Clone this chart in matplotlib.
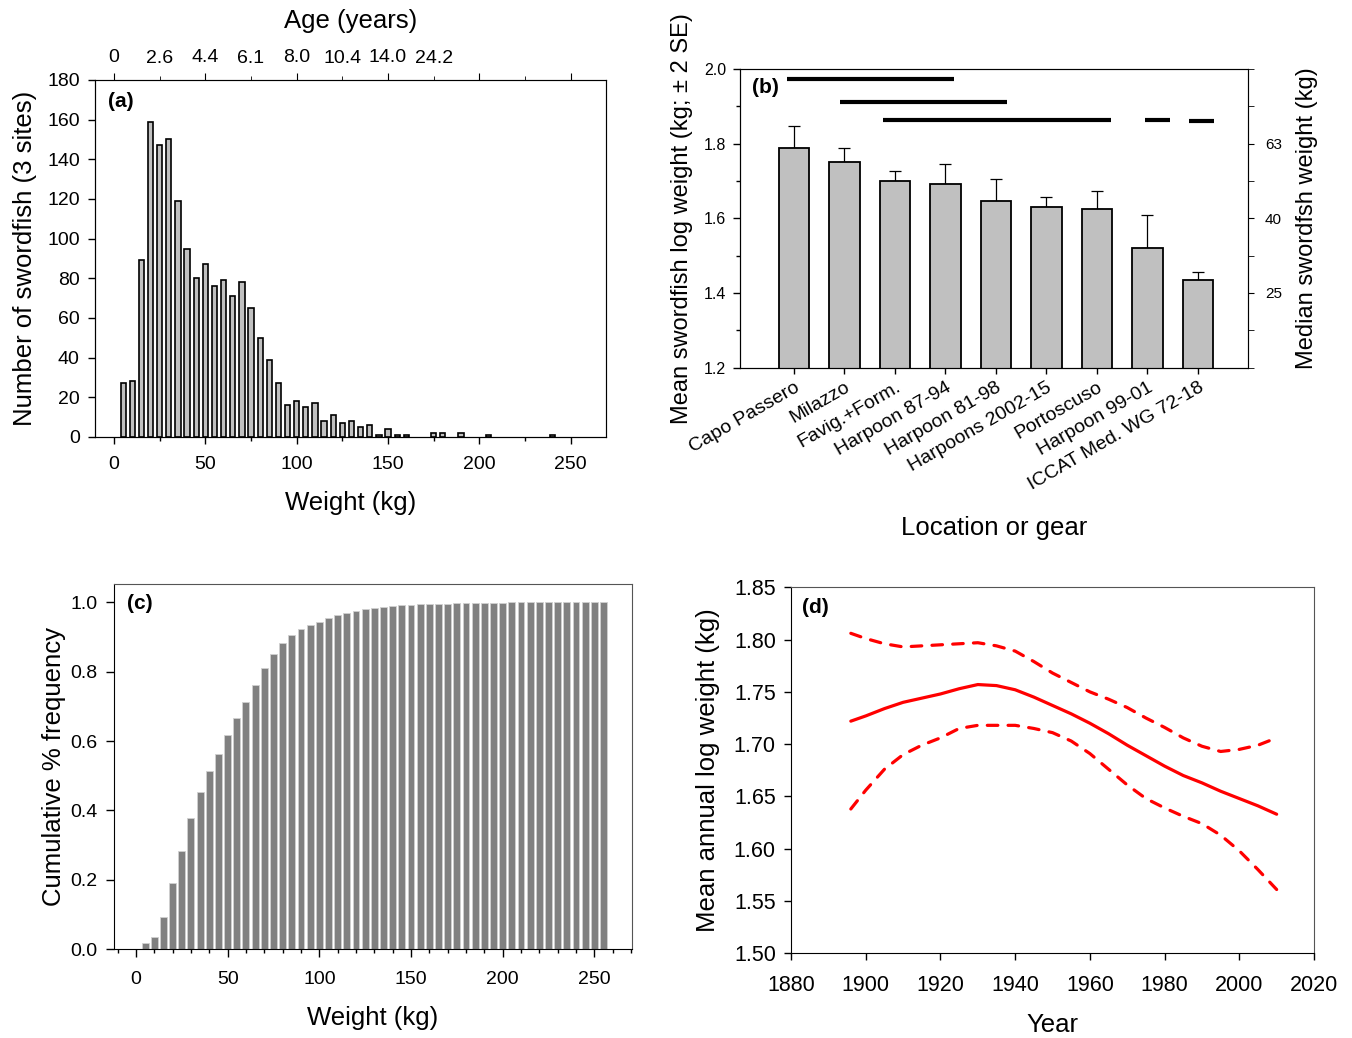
import matplotlib
matplotlib.use("Agg")
import matplotlib.pyplot as plt
from matplotlib.ticker import MultipleLocator

plt.rcParams["font.family"] = ["Liberation Sans", "DejaVu Sans"]

# (a) weight frequency, 5 kg bins (bin centre, count); empty bins left out
hist_weight = [5, 10, 15, 20, 25, 30, 35, 40, 45, 50, 55, 60, 65, 70, 75, 80,
               85, 90, 95, 100, 105, 110, 115, 120, 125, 130, 135, 140, 145,
               150, 155, 160, 175, 180, 190, 205, 240]
hist_count = [27, 28, 89, 159, 147, 150, 119, 95, 80, 87, 76, 79, 71, 78, 65,
              50, 39, 27, 16, 18, 15, 17, 8, 11, 7, 8, 5, 6, 1, 4, 1, 1, 2, 2,
              2, 1, 1]
age_major_labels = ["0", "4.4", "8.0", "14.0", "", ""]      # at 0, 50, ... 250 kg
age_minor_labels = ["2.6", "6.1", "10.4", "24.2", ""]       # at 25, 75, ... 225 kg

# (b) mean log weight by location / gear
sites = ["Capo Passero", "Milazzo", "Favig.+Form.", "Harpoon 87-94",
         "Harpoon 81-98", "Harpoons 2002-15", "Portoscuso", "Harpoon 99-01",
         "ICCAT Med. WG 72-18"]
mean_log_w = [1.789, 1.751, 1.701, 1.691, 1.646, 1.629, 1.626, 1.520, 1.434]
two_se = [0.059, 0.038, 0.025, 0.054, 0.060, 0.027, 0.048, 0.090, 0.021]
median_labels = ["25", "40", "63"]
median_ticks = [1.4, 1.6, 1.8]
# homogeneous groups: start, end (in bar positions 1..9), level
group_start = [0.86, 1.91, 2.76, 7.95, 8.82]
group_end = [4.17, 5.21, 7.27, 8.44, 9.31]
group_level = [1.973, 1.911, 1.862, 1.862, 1.860]

# (c) cumulative frequency by weight
cum_weight = list(range(5, 256, 5))
cum_freq = [0.017, 0.036, 0.092, 0.191, 0.284, 0.378, 0.453, 0.513, 0.562,
            0.618, 0.666, 0.714, 0.761, 0.810, 0.850, 0.884, 0.906, 0.923,
            0.934, 0.944, 0.955, 0.965, 0.969, 0.976, 0.980, 0.985, 0.988,
            0.991, 0.992, 0.994, 0.995, 0.995, 0.996, 0.996, 0.997, 0.998,
            0.998, 0.999, 0.999, 0.999, 1.0, 1.0, 1.0, 1.0, 1.0, 1.0, 1.0,
            1.0, 1.0, 1.0, 1.0]

# (d) smoothed mean annual log weight with confidence band
years = [1896, 1900, 1905, 1910, 1915, 1920, 1925, 1930, 1935, 1940, 1945,
         1950, 1955, 1960, 1965, 1970, 1975, 1980, 1985, 1990, 1995, 2000,
         2005, 2010]
fit_mean = [1.722, 1.727, 1.734, 1.740, 1.744, 1.748, 1.753, 1.757, 1.756,
            1.752, 1.745, 1.737, 1.729, 1.720, 1.710, 1.699, 1.689, 1.679,
            1.670, 1.663, 1.655, 1.648, 1.641, 1.633]
fit_upper = [1.806, 1.801, 1.796, 1.793, 1.794, 1.795, 1.796, 1.797, 1.794,
             1.789, 1.779, 1.768, 1.759, 1.750, 1.743, 1.735, 1.725, 1.716,
             1.706, 1.698, 1.693, 1.695, 1.699, 1.706]
fit_lower = [1.638, 1.656, 1.676, 1.690, 1.699, 1.706, 1.715, 1.718, 1.718,
             1.718, 1.715, 1.711, 1.703, 1.691, 1.676, 1.661, 1.648, 1.639,
             1.631, 1.624, 1.613, 1.598, 1.580, 1.561]

TICK_FS = 14
LABEL_FS = 18.5
FRAME_GRAY = "#555555"


def style_frame(ax, xpad=9, ypad=6):
    for side in ["top", "right"]:
        ax.spines[side].set_color(FRAME_GRAY)
    for side in ["left", "bottom"]:
        ax.spines[side].set_color("black")
    ax.tick_params(which="both", direction="out", labelsize=TICK_FS,
                   width=1, color="black")
    ax.tick_params(which="major", length=5)
    ax.tick_params(which="minor", length=3)
    ax.tick_params(axis="x", which="both", pad=xpad)
    ax.tick_params(axis="y", which="both", pad=ypad)


def panel_letter(ax, text, x, y):
    ax.text(x, y, text, transform=ax.transAxes, ha="left", va="top",
            fontsize=15, fontweight="bold")


def plot_figure():
    fig = plt.figure(figsize=(13.52, 10.38), dpi=100)

    # ---- (a) histogram
    ax_a = fig.add_axes([0.0703, 0.579, 0.378, 0.344])
    ax_a.bar(hist_weight, hist_count, width=2.9, color="#c0c0c0",
             edgecolor="black", linewidth=1.2)
    ax_a.set_xlim(-10.4, 269.4)
    ax_a.set_ylim(0, 180)
    ax_a.xaxis.set_major_locator(MultipleLocator(50))
    ax_a.xaxis.set_minor_locator(MultipleLocator(25))
    ax_a.yaxis.set_major_locator(MultipleLocator(20))
    style_frame(ax_a)
    ax_a.set_xlabel("Weight (kg)", fontsize=LABEL_FS, labelpad=13)
    ax_a.set_ylabel("Number of swordfish (3 sites)", fontsize=LABEL_FS,
                    labelpad=7)
    panel_letter(ax_a, "(a)", 0.025, 0.965)

    ax_age = ax_a.twiny()
    ax_age.set_xlim(ax_a.get_xlim())
    ax_age.set_xticks(range(0, 251, 50), labels=age_major_labels)
    ax_age.set_xticks(range(25, 250, 50), labels=age_minor_labels, minor=True)
    ax_age.tick_params(which="both", direction="out", labelsize=TICK_FS)
    ax_age.tick_params(which="major", length=5, pad=5)
    ax_age.tick_params(which="minor", length=3, pad=6.5)
    ax_age.set_xlabel("Age (years)", fontsize=LABEL_FS, labelpad=15)

    # ---- (b) mean log weight by location
    ax_b = fig.add_axes([0.5473, 0.6458, 0.3761, 0.2878])
    pos = list(range(1, len(sites) + 1))
    ax_b.bar(pos, mean_log_w, width=0.6, color="#c0c0c0", edgecolor="black",
             linewidth=1.3, zorder=2)
    ax_b.errorbar(pos, mean_log_w, yerr=[[0] * len(sites), two_se], fmt="none",
                  ecolor="black", elinewidth=0.9, capsize=4, capthick=0.9,
                  zorder=1)
    ax_b.hlines(group_level, group_start, group_end, colors="black",
                linewidth=3)
    ax_b.set_xlim(-0.07, 10.0)
    ax_b.set_ylim(1.2, 2.0)
    ax_b.yaxis.set_major_locator(MultipleLocator(0.2))
    ax_b.yaxis.set_minor_locator(MultipleLocator(0.1))
    ax_b.set_xticks(pos)
    ax_b.set_xticklabels(sites, rotation=30, ha="right",
                         rotation_mode="anchor")
    style_frame(ax_b, xpad=4, ypad=5)
    ax_b.tick_params(axis="y", which="both", labelsize=11.5, right=False)
    ax_b.tick_params(axis="y", which="major", length=5)
    ax_b.tick_params(axis="x", labelsize=14, length=4)
    ax_b.yaxis.set_major_formatter(lambda v, p: f"{v:.1f}")
    ax_b.set_xlabel("Location or gear", fontsize=LABEL_FS, labelpad=16)
    ax_b.set_ylabel("Mean swordfish log weight (kg; \u00b1 2 SE)",
                    fontsize=17, labelpad=8)
    panel_letter(ax_b, "(b)", 0.024, 0.97)

    ax_med = ax_b.twinx()
    ax_med.set_ylim(ax_b.get_ylim())
    ax_med.yaxis.set_minor_locator(MultipleLocator(0.1))
    ax_med.set_yticks(median_ticks, labels=median_labels)
    ax_med.tick_params(which="both", direction="out", labelsize=11,
                       length=4, pad=8)
    ax_med.set_ylabel("Median swordfsh weight (kg)", fontsize=17,
                      labelpad=10)

    # ---- (c) cumulative frequency
    ax_c = fig.add_axes([0.0843, 0.0857, 0.3831, 0.3516])
    ax_c.bar(cum_weight, cum_freq, width=3.8, color="#808080",
             edgecolor="#d0d0d0", linewidth=0.6)
    ax_c.set_xlim(-12, 270.5)
    ax_c.set_ylim(0, 1.053)
    ax_c.xaxis.set_major_locator(MultipleLocator(50))
    ax_c.xaxis.set_minor_locator(MultipleLocator(10))
    ax_c.yaxis.set_major_locator(MultipleLocator(0.2))
    ax_c.yaxis.set_major_formatter(lambda v, p: f"{v:.1f}")
    style_frame(ax_c, xpad=9.5, ypad=6)
    ax_c.tick_params(which="major", length=6)
    ax_c.set_xlabel("Weight (kg)", fontsize=LABEL_FS, labelpad=13)
    ax_c.set_ylabel("Cumulative % frequency", fontsize=LABEL_FS, labelpad=3)
    panel_letter(ax_c, "(c)", 0.025, 0.973)

    # ---- (d) trend in mean annual log weight
    ax_d = fig.add_axes([0.5851, 0.0816, 0.3868, 0.3526])
    ax_d.plot(years, fit_mean, color="red", linewidth=2.3,
              solid_capstyle="round")
    for band in (fit_upper, fit_lower):
        ax_d.plot(years, band, color="red", linewidth=2.3,
                  linestyle=(0, (3.3, 3.2)), dash_capstyle="round")
    ax_d.set_xlim(1880, 2020)
    ax_d.set_ylim(1.50, 1.85)
    ax_d.xaxis.set_major_locator(MultipleLocator(20))
    ax_d.yaxis.set_major_locator(MultipleLocator(0.05))
    ax_d.yaxis.set_major_formatter(lambda v, p: f"{v:.2f}")
    style_frame(ax_d, xpad=10.5, ypad=6)
    ax_d.tick_params(labelsize=15.5)
    ax_d.set_xlabel("Year", fontsize=LABEL_FS, labelpad=12.5)
    ax_d.set_ylabel("Mean annual log weight (kg)", fontsize=LABEL_FS,
                    labelpad=10)
    panel_letter(ax_d, "(d)", 0.021, 0.97)

    fig.savefig("out.png", dpi=100)


if __name__ == "__main__":
    plot_figure()
